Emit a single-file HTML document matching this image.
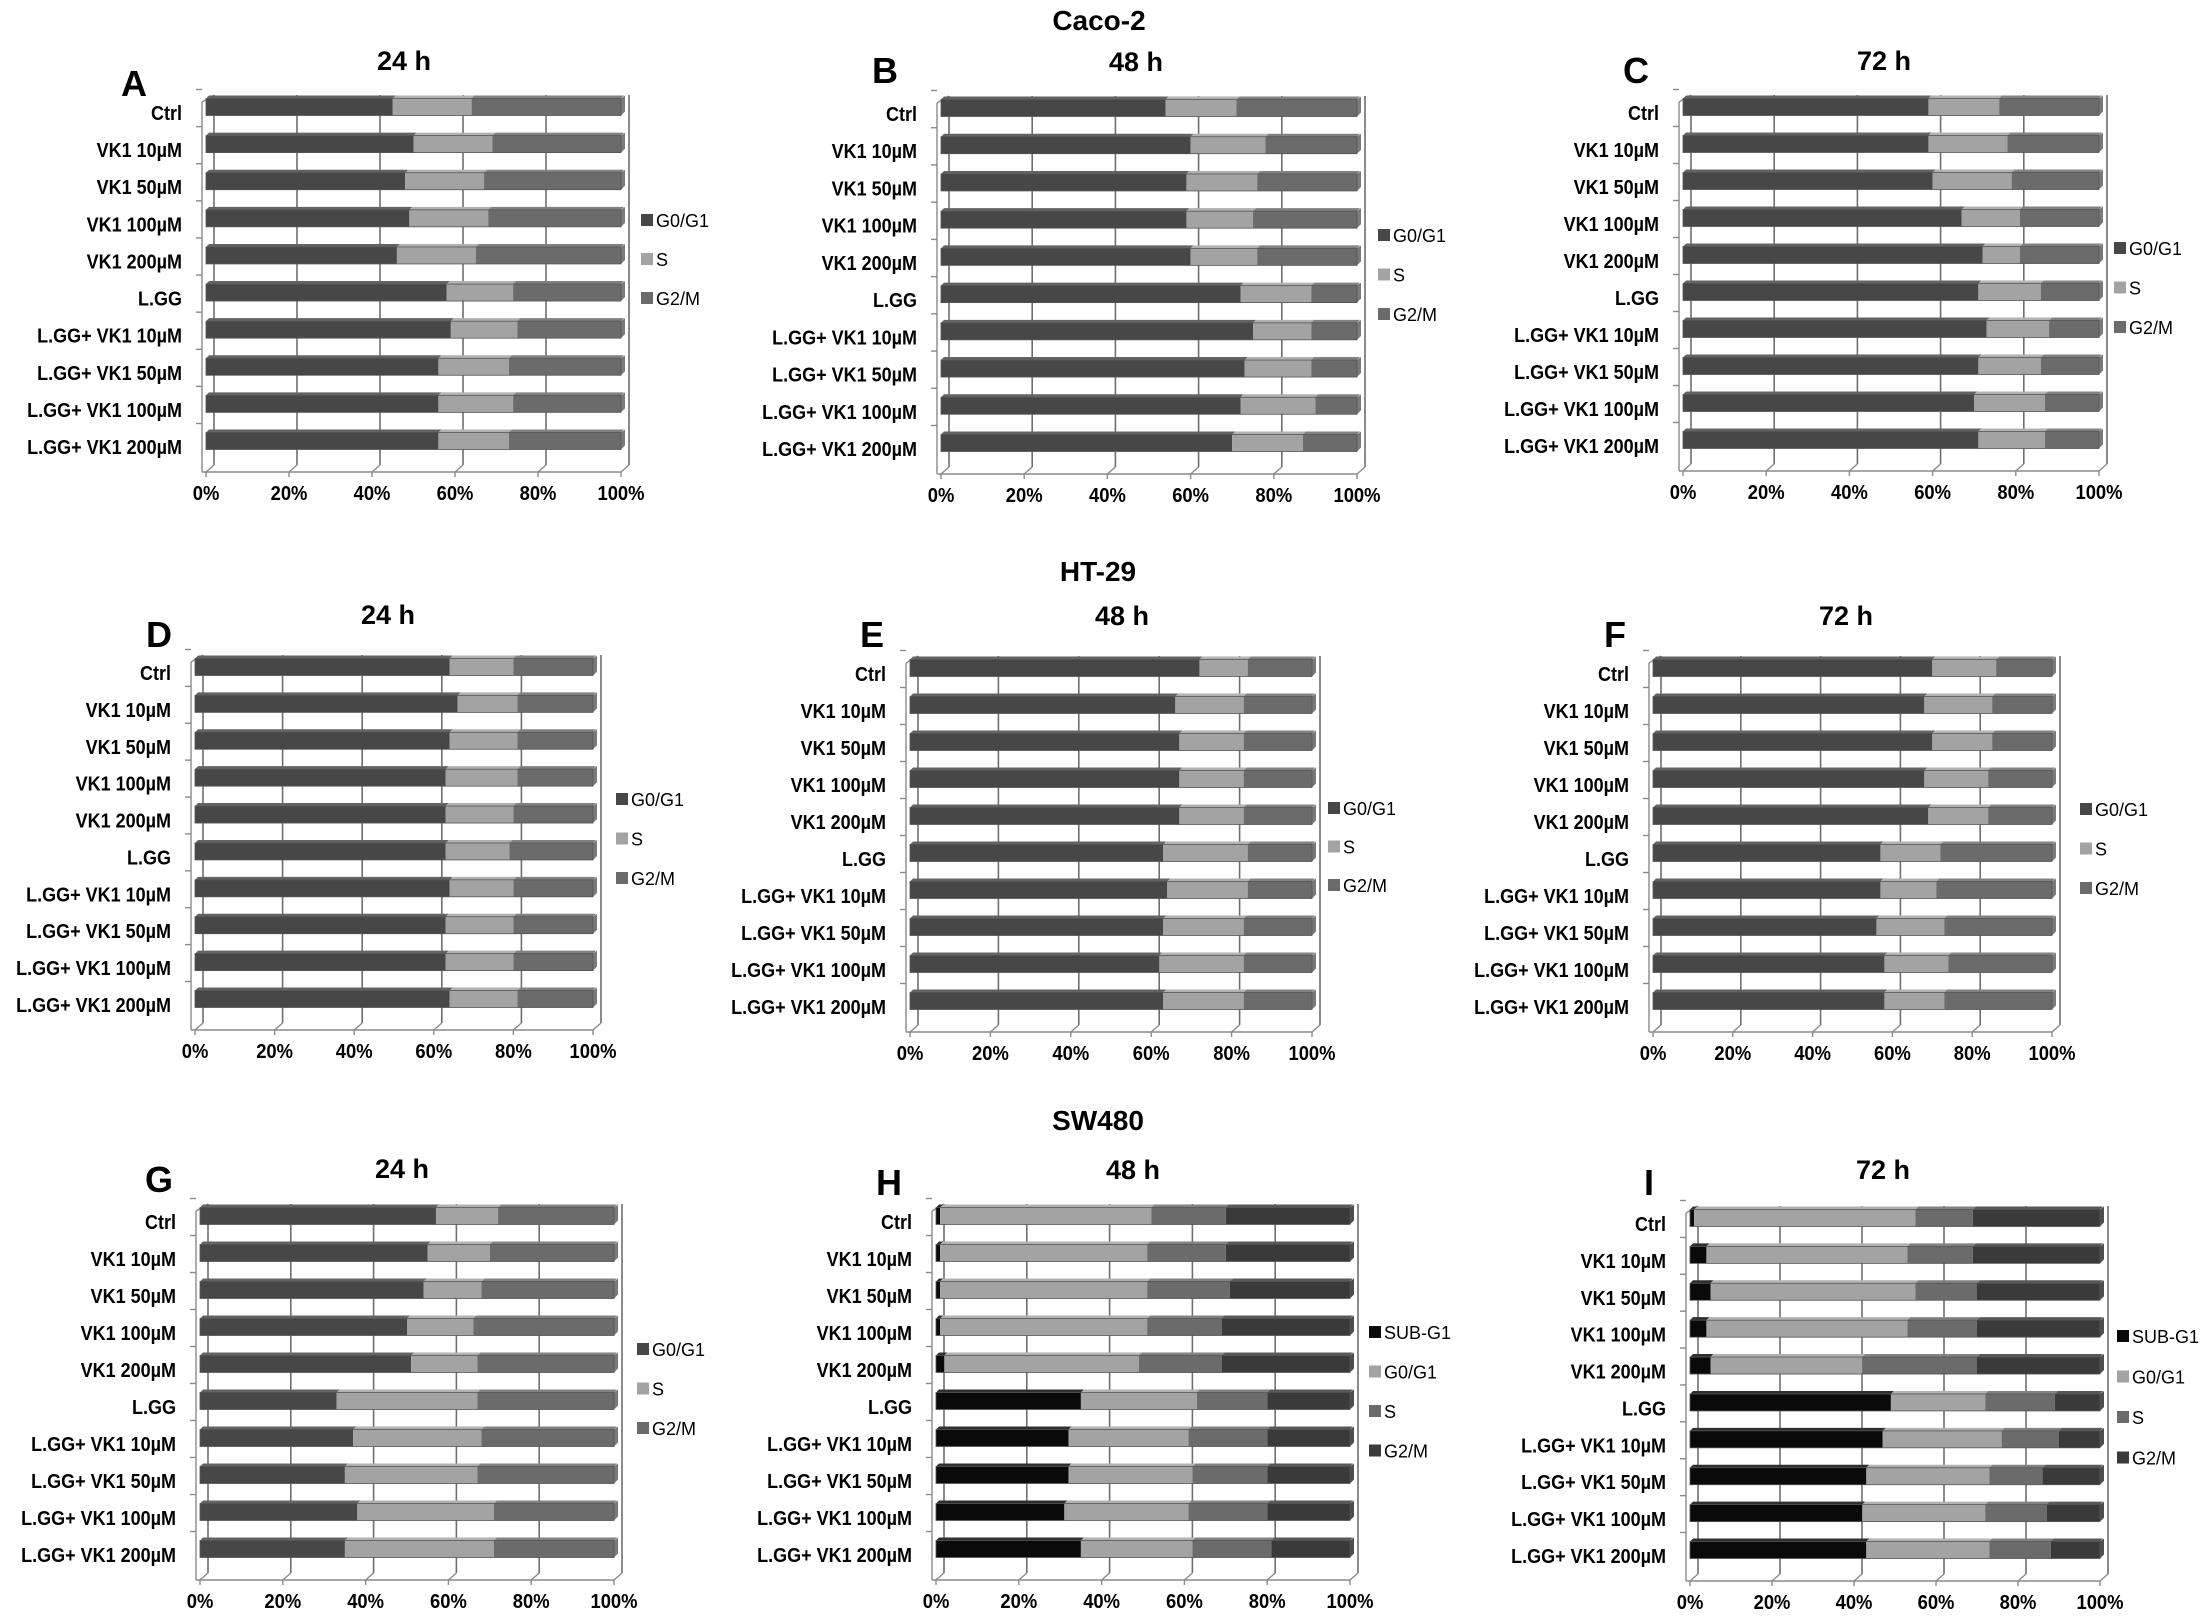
<!DOCTYPE html>
<html><head><meta charset="utf-8"><style>
html,body{margin:0;padding:0;background:#fff}
svg{display:block}
text{font-family:"Liberation Sans",sans-serif}
</style></head><body>
<svg id="fig" width="2200" height="1616" viewBox="0 0 2200 1616" xmlns="http://www.w3.org/2000/svg">
<rect x="0" y="0" width="2200" height="1616" fill="#fff"/>
<text x="1099" y="30" font-size="28" font-weight="bold" text-anchor="middle">Caco-2</text>
<text x="1098" y="581" font-size="28" font-weight="bold" text-anchor="middle">HT-29</text>
<text x="1098" y="1130" font-size="28" font-weight="bold" text-anchor="middle">SW480</text>
</svg>
<script>
const categories = ["Ctrl","VK1 10\u00b5M","VK1 50\u00b5M","VK1 100\u00b5M","VK1 200\u00b5M","L.GG","L.GG+ VK1 10\u00b5M","L.GG+ VK1 50\u00b5M","L.GG+ VK1 100\u00b5M","L.GG+ VK1 200\u00b5M"];
const tickLabels = ["0%","20%","40%","60%","80%","100%"];
const series3 = ["G0/G1","S","G2/M"];
const series4 = ["SUB-G1","G0/G1","S","G2/M"];
const dataA = [[45,19,36],[50,19,31],[48,19,33],[49,19,32],[46,19,35],[58,16,26],[59,16,25],[56,17,27],[56,18,26],[56,17,27]];
const dataB = [[54,17,29],[60,18,22],[59,17,24],[59,16,25],[60,16,24],[72,17,11],[75,14,11],[73,16,11],[72,18,10],[70,17,13]];
const dataC = [[59,17,24],[59,19,22],[60,19,21],[67,14,19],[72,9,19],[71,15,14],[73,15,12],[71,15,14],[70,17,13],[71,16,13]];
const dataD = [[64,16,20],[66,15,19],[64,17,19],[63,18,19],[63,17,20],[63,16,21],[64,16,20],[63,17,20],[63,17,20],[64,17,19]];
const dataE = [[72,12,16],[66,17,17],[67,16,17],[67,16,17],[67,16,17],[63,21,16],[64,20,16],[63,20,17],[62,21,17],[63,20,17]];
const dataF = [[70,16,14],[68,17,15],[70,15,15],[68,16,16],[69,15,16],[57,15,28],[57,14,29],[56,17,27],[58,16,26],[58,15,27]];
const dataG = [[57,15,28],[55,15,30],[54,14,32],[50,16,34],[51,16,33],[33,34,33],[37,31,32],[35,32,33],[38,33,29],[35,36,29]];
const dataH = [[1,51,18,30],[1,50,19,30],[1,50,20,29],[1,50,18,31],[2,47,20,31],[35,28,17,20],[32,29,19,20],[32,30,18,20],[31,30,19,20],[35,27,19,19]];
const dataI = [[1,54,14,31],[4,49,16,31],[5,50,15,30],[4,49,17,30],[5,37,28,30],[49,23,17,11],[47,29,14,10],[43,30,13,14],[42,30,15,13],[43,30,15,12]];

const col3 = ["#474747","#a3a3a3","#6b6b6b"];
const col4 = ["#0a0a0a","#a3a3a3","#6b6b6b","#3a3a3a"];

const panels = [
 {id:"a",letter:"A",title:"24 h",lx:134,ly:96,tx:404,ty:70,x0:206,x1:621,y0:107,y1:441,leg:[641,220,39],data:dataA,s:series3,c:col3},
 {id:"b",letter:"B",title:"48 h",lx:885,ly:83,tx:1136,ty:71,x0:941,x1:1357,y0:108,y1:443,leg:[1378,235,39.5],data:dataB,s:series3,c:col3},
 {id:"c",letter:"C",title:"72 h",lx:1636,ly:83,tx:1884,ty:70,x0:1683,x1:2099,y0:107,y1:440,leg:[2114,248,39.5],data:dataC,s:series3,c:col3},
 {id:"d",letter:"D",title:"24 h",lx:159,ly:647,tx:388,ty:624,x0:195,x1:593,y0:667,y1:999,leg:[616,799,39.5],data:dataD,s:series3,c:col3},
 {id:"e",letter:"E",title:"48 h",lx:872,ly:647,tx:1122,ty:625,x0:910,x1:1312,y0:668,y1:1001,leg:[1328,808,38.5],data:dataE,s:series3,c:col3},
 {id:"f",letter:"F",title:"72 h",lx:1615,ly:647,tx:1846,ty:625,x0:1653,x1:2052,y0:668,y1:1001,leg:[2080,809,39.5],data:dataF,s:series3,c:col3},
 {id:"g",letter:"G",title:"24 h",lx:159,ly:1192,tx:402,ty:1178,x0:200,x1:614,y0:1216,y1:1549,leg:[637,1349,39.5],data:dataG,s:series3,c:col3},
 {id:"h",letter:"H",title:"48 h",lx:889,ly:1195,tx:1133,ty:1179,x0:936,x1:1350,y0:1216,y1:1549,leg:[1369,1332,39.5],data:dataH,s:series4,c:col4},
 {id:"i",letter:"I",title:"72 h",lx:1649,ly:1195,tx:1883,ty:1179,x0:1690,x1:2100,y0:1218,y1:1550,leg:[2117,1336,40.5],data:dataI,s:series4,c:col4}
];

const NS = "http://www.w3.org/2000/svg";
const svg = document.getElementById("fig");
function mk(tag, attrs, parent){
  const e = document.createElementNS(NS, tag);
  for (const k in attrs) e.setAttribute(k, attrs[k]);
  parent.appendChild(e);
  return e;
}
function shade(hex, f){
  const n = parseInt(hex.slice(1),16);
  let r=(n>>16)&255,g=(n>>8)&255,b=n&255;
  r=Math.min(255,Math.round(r+(255-r)*f));g=Math.min(255,Math.round(g+(255-g)*f));b=Math.min(255,Math.round(b+(255-b)*f));
  return "rgb("+r+","+g+","+b+")";
}
const DX=8, DY=-7, BH=17;

panels.forEach(p=>{
  const g = mk("g",{},svg);
  
  
  const xs = v => p.x0 + (p.x1-p.x0)*v/100;
  const n = categories.length;
  const ys = i => p.y0 + (p.y1-p.y0)*i/(n-1);
  const top = p.y0 - 12, floor = p.y1 + 31;

  const lt = mk("text",{x:p.lx,y:p.ly,"font-size":36,"font-weight":"bold","text-anchor":"middle"},g);
  
  
  lt.textContent = p.letter;
  const tt = mk("text",{x:p.tx,y:p.ty,"font-size":27,"font-weight":"bold","text-anchor":"middle"},g);
  
  
  tt.textContent = p.title;

  tickLabels.forEach((t,k)=>{
    const x = xs(k*20);
    const gl = mk("line",{x1:x+DX,y1:top,x2:x+DX,y2:floor+DY,stroke:"#6e6e6e","stroke-width":1.6},g);
    
    
    mk("line",{x1:x,y1:floor,x2:x+DX,y2:floor+DY,stroke:"#8a8a8a","stroke-width":1.4},g);
    mk("line",{x1:x,y1:floor,x2:x,y2:floor+5,stroke:"#8a8a8a","stroke-width":1.4},g);
    const tl = mk("text",{x:0,y:0,"font-size":20,"font-weight":"bold","text-anchor":"middle",transform:"translate("+x+","+(floor+28)+") scale(0.92,1)"},g);
    
    
    tl.textContent = t;
  });
  mk("line",{x1:p.x0-4,y1:floor,x2:p.x1,y2:floor,stroke:"#8a8a8a","stroke-width":1.4},g);
  mk("line",{x1:p.x0-4,y1:top-DY,x2:p.x0-4,y2:floor,stroke:"#8a8a8a","stroke-width":1.4},g);
  mk("line",{x1:p.x0-4,y1:top-DY,x2:p.x0+DX,y2:top,stroke:"#8a8a8a","stroke-width":1.4},g);

  categories.forEach((c,i)=>{
    const yc = ys(i);
    mk("line",{x1:p.x0-10,y1:yc-BH/2-9,x2:p.x0-4,y2:yc-BH/2-9,stroke:"#8a8a8a","stroke-width":1.4},g);
    const cl = mk("text",{x:0,y:0,"font-size":20,"font-weight":"bold","text-anchor":"end",transform:"translate("+(p.x0-24)+","+(yc+13)+") scale(0.9,1)"},g);
    
    
    cl.textContent = c;
    let acc = 0;
    const row = p.data[i];
    row.forEach((v,k)=>{
      const xa = xs(acc), xb = xs(acc+v);
      acc += v;
      const r = mk("rect",{x:xa,y:yc-BH/2,width:Math.max(0,xb-xa),height:BH,fill:p.c[k]},g);
      
      
      mk("polygon",{points:xa+","+(yc-BH/2)+" "+xb+","+(yc-BH/2)+" "+(xb+3)+","+(yc-BH/2-3)+" "+(xa+3)+","+(yc-BH/2-3),fill:shade(p.c[k],0.15)},g);
    });
    const xe = xs(acc);
    mk("polygon",{points:xe+","+(yc-BH/2)+" "+(xe+4)+","+(yc-BH/2-3)+" "+(xe+4)+","+(yc+BH/2-4)+" "+xe+","+(yc+BH/2),fill:shade(p.c[p.c.length-1],0.1)},g);
    mk("rect",{x:p.x0,y:yc-BH/2,width:xe-p.x0,height:BH,fill:"none",stroke:"#555","stroke-width":0.8},g);
  });

  p.s.forEach((s,k)=>{
    const ly = p.leg[1] + k*p.leg[2];
    const sq = mk("rect",{x:p.leg[0],y:ly-6,width:12,height:12,fill:p.c[k]},g);
    
    
    const lx = mk("text",{x:p.leg[0]+15,y:ly+7,"font-size":18},g);
    
    
    lx.textContent = s;
  });
});
</script>
</body></html>
